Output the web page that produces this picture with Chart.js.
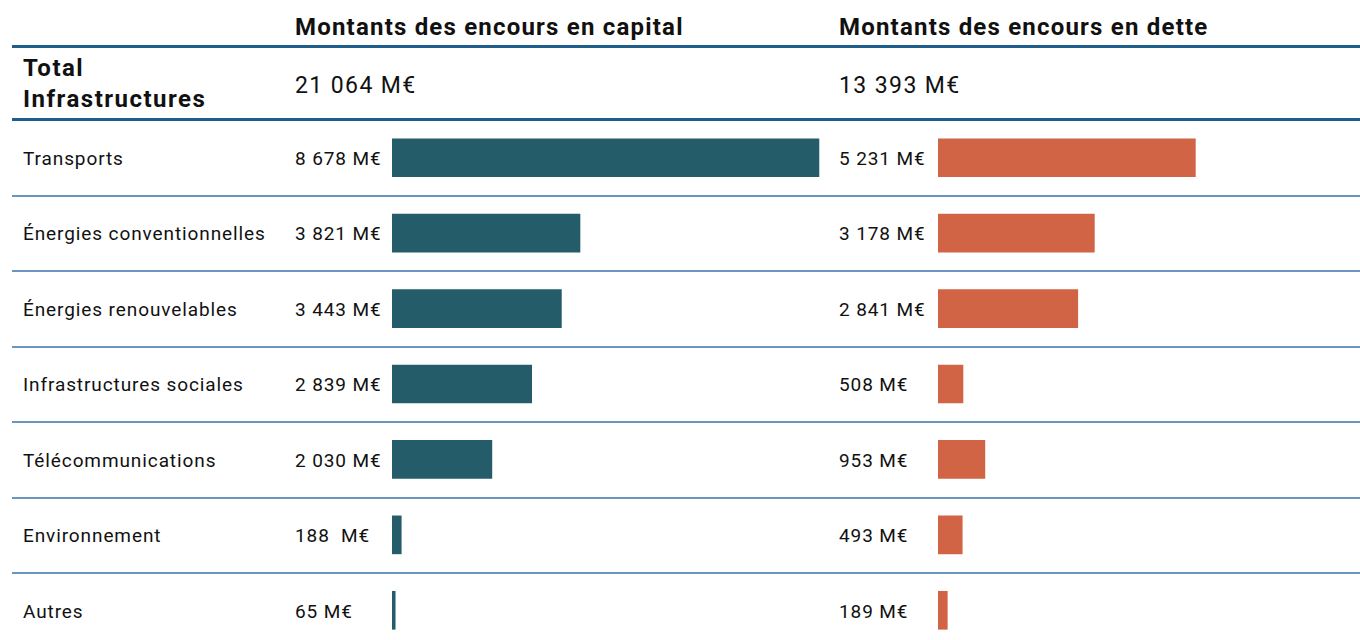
<!DOCTYPE html>
<html lang="fr">
<head>
<meta charset="utf-8">
<title>Encours infrastructures</title>
<script src="https://cdn.jsdelivr.net/npm/chart.js@4.4.1/dist/chart.umd.min.js"></script>
<style>
  html, body { margin: 0; padding: 0; background: #fff; }
  #page { position: relative; width: 1360px; height: 640px; overflow: hidden; font-family: Roboto, "Noto Sans", sans-serif; color: #111; }
  .abs { position: absolute; white-space: pre; }
  .head { font-weight: bold; font-size: 24px; top: 13px; letter-spacing: 1.2px; }
  .rule { position: absolute; left: 12px; right: 0; }
  .thick { height: 3px; background: #1f5e8c; }
  .thin { height: 2px; background: #6a96bd; }
  .row { height: 30px; line-height: 30px; font-size: 19px; letter-spacing: 0.9px; }
  .total { top: 71px; font-size: 23px; line-height: 30px; letter-spacing: 1.4px; }
  canvas { position: absolute; }
</style>
</head>
<body>
<div id="page">
  <div class="abs head" style="left:295px">Montants des encours en capital</div>
  <div class="abs head" style="left:839px">Montants des encours en dette</div>
  <div class="rule thick" style="top:45px"></div>
  <div class="abs" style="left:23px;top:53px;font-weight:bold;font-size:24px;line-height:31px;letter-spacing:1.5px">Total
Infrastructures</div>
  <div class="abs total" id="totalCapital" style="left:295px"></div>
  <div class="abs total" id="totalDette" style="left:839px"></div>
  <div class="rule thick" style="top:118px"></div>
  <canvas id="capitalChart" width="430" height="528" style="left:392px;top:120px"></canvas>
  <canvas id="detteChart" width="430" height="528" style="left:938px;top:120px"></canvas>
</div>
<script>
// Données (M€)
const categories = ['Transports', 'Énergies conventionnelles', 'Énergies renouvelables', 'Infrastructures sociales', 'Télécommunications', 'Environnement', 'Autres'];
const capital = [8678, 3821, 3443, 2839, 2030, 188, 65];
const dette = [5231, 3178, 2841, 508, 953, 493, 189];
const capitalLabels = ['8 678 M€', '3 821 M€', '3 443 M€', '2 839 M€', '2 030 M€', '188  M€', '65 M€'];
const detteLabels = ['5 231 M€', '3 178 M€', '2 841 M€', '508 M€', '953 M€', '493 M€', '189 M€'];
const totalCapital = '21 064 M€';
const totalDette = '13 393 M€';

const TOP = 120;
const ROW_H = 75.5;
const X_MAX = 8740; // même échelle pour les deux colonnes

function buildTable() {
    const page = document.getElementById('page');
    document.getElementById('totalCapital').textContent = totalCapital;
    document.getElementById('totalDette').textContent = totalDette;

    categories.forEach((cat, i) => {
        const mid = TOP + (i + 0.5) * ROW_H;
        [[23, cat], [295, capitalLabels[i]], [839, detteLabels[i]]].forEach(([x, txt]) => {
            const el = document.createElement('div');
            el.className = 'abs row';
            el.style.left = x + 'px';
            el.style.top = (mid - 14) + 'px';
            el.textContent = txt;
            page.appendChild(el);
        });
        if (i < categories.length - 1) {
            const line = document.createElement('div');
            line.className = 'rule thin';
            line.style.top = (TOP + (i + 1) * ROW_H - 1) + 'px';
            page.appendChild(line);
        }
    });
}

function createBarChart(id, values, color) {
    const ctx = document.getElementById(id).getContext('2d');
    return new Chart(ctx, {
        type: 'bar',
        data: {
            labels: categories,
            datasets: [{
                data: values,
                backgroundColor: color,
                borderWidth: 0,
                barThickness: 38
            }]
        },
        options: {
            indexAxis: 'y',
            responsive: false,
            animation: false,
            layout: { padding: 0 },
            plugins: {
                legend: { display: false },
                tooltip: { enabled: false }
            },
            scales: {
                x: { display: false, min: 0, max: X_MAX },
                y: { display: false }
            }
        }
    });
}

buildTable();
createBarChart('capitalChart', capital, '#245c6a');
createBarChart('detteChart', dette, '#d06445');
</script>
</body>
</html>
